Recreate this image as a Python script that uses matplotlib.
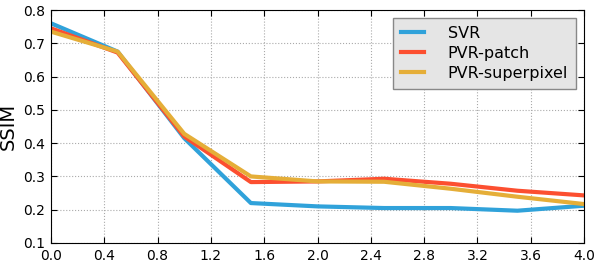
import matplotlib
matplotlib.use('Agg')
import matplotlib.pyplot as plt

# datos
x = [0.0, 0.5, 1.0, 1.5, 2.0, 2.5, 3.0, 3.5, 4.0]
svr = [0.760, 0.675, 0.415, 0.220, 0.210, 0.205, 0.205, 0.197, 0.212]
pvr_patch = [0.745, 0.672, 0.420, 0.283, 0.285, 0.293, 0.278, 0.257, 0.243]
pvr_superpixel = [0.735, 0.675, 0.428, 0.300, 0.285, 0.284, 0.263, 0.239, 0.217]

xticks = [0.0, 0.4, 0.8, 1.2, 1.6, 2.0, 2.4, 2.8, 3.2, 3.6, 4.0]
yticks = [0.1, 0.2, 0.3, 0.4, 0.5, 0.6, 0.7, 0.8]

fig = plt.figure(figsize=(5.98, 2.62), dpi=100)
ax = fig.add_axes([51 / 598, 19 / 262, 533 / 598, 233 / 262])

ax.plot(x, svr, color='#30a2da', lw=3, label='SVR')
ax.plot(x, pvr_patch, color='#fc4f30', lw=3, label='PVR-patch')
ax.plot(x, pvr_superpixel, color='#e5ae38', lw=3, label='PVR-superpixel')

ax.set_xlim(0, 4)
ax.set_ylim(0.1, 0.8)
ax.set_xticks(xticks)
ax.set_yticks(yticks)
ax.set_xticklabels(['%.1f' % v for v in xticks])
ax.set_yticklabels(['%.1f' % v for v in yticks])
ax.tick_params(direction='in', top=True, right=True, labelsize=10, length=4, pad=4)
ax.grid(True, linestyle=':', color='#aaaaaa', lw=0.8)
ax.set_ylabel('SSIM', fontsize=14)

leg = ax.legend(loc='upper right', fontsize=11.5, fancybox=False, handlelength=1.4,
                borderpad=0.5, labelspacing=0.3, handletextpad=1.5)
leg.get_frame().set_facecolor('#e5e5e5')
leg.get_frame().set_edgecolor('#888888')
leg.get_frame().set_alpha(1)

plt.savefig('out.png', dpi=100)
